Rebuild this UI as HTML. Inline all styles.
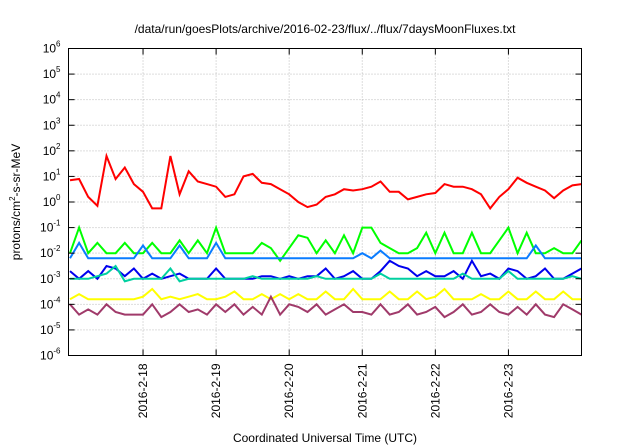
<!DOCTYPE html>
<html><head><meta charset="utf-8"><style>
html,body{margin:0;padding:0;background:#fff;}
svg{display:block;font-family:"Liberation Sans",sans-serif;}
</style></head><body>
<svg id="chart" width="640" height="448" viewBox="0 0 640 448">
<text x="325" y="33" font-size="12" text-anchor="middle">/data/run/goesPlots/archive/2016-02-23/flux/../flux/7daysMoonFluxes.txt</text>
<g id="grid"></g>
<g id="series"></g>
<rect x="68.5" y="48.5" width="513" height="307" fill="none" stroke="#000" stroke-width="1"/>
<g id="axes"></g>
<text transform="translate(20,202) rotate(-90)" font-size="12" text-anchor="middle">protons/cm<tspan font-size="8" dy="-5">2</tspan><tspan dy="5">-s-sr-MeV</tspan></text>
<text x="325" y="442" font-size="12" text-anchor="middle">Coordinated Universal Time (UTC)</text>
</svg>
<script>
const yExps=[-6,-5,-4,-3,-2,-1,0,1,2,3,4,5,6];
const xTickDays=[1,2,3,4,5,6];
const xTickLabels=["2016-2-18","2016-2-19","2016-2-20","2016-2-21","2016-2-22","2016-2-23"];
const stepDays=0.125;
const redV=[0.85,0.9,0.2,-0.15,1.8,0.9,1.35,0.7,0.4,-0.25,-0.25,1.8,0.3,1.2,0.8,0.7,0.6,0.2,0.3,1.0,1.1,0.75,0.7,0.5,0.3,0.0,-0.2,-0.1,0.2,0.3,0.5,0.45,0.5,0.6,0.8,0.4,0.4,0.1,0.2,0.3,0.35,0.7,0.6,0.6,0.5,0.3,-0.25,0.2,0.5,0.95,0.75,0.6,0.45,0.15,0.45,0.65,0.7];
const greenV=[-2.0,-1.0,-2.0,-1.6,-2.0,-2.0,-1.6,-2.0,-2.0,-1.6,-2.0,-2.0,-1.5,-2.0,-1.5,-2.0,-1.0,-2.0,-2.0,-2.0,-2.0,-1.6,-1.8,-2.3,-1.8,-1.3,-1.4,-2.0,-1.5,-2.0,-1.3,-2.0,-1.0,-1.0,-1.6,-1.8,-2.0,-2.0,-1.8,-1.2,-2.0,-1.2,-2.0,-2.0,-1.2,-2.0,-2.0,-1.5,-1.0,-2.0,-1.2,-2.0,-2.0,-1.8,-2.0,-2.0,-1.5];
const lblueV=[-2.2,-1.6,-2.2,-2.2,-2.2,-2.2,-2.2,-2.2,-1.7,-2.2,-2.2,-2.2,-1.7,-2.2,-2.2,-2.2,-1.6,-2.2,-2.2,-2.2,-2.2,-2.2,-2.2,-2.2,-2.2,-2.2,-2.2,-2.2,-2.2,-2.2,-2.2,-2.2,-2.0,-2.2,-1.9,-2.2,-2.2,-2.2,-2.2,-2.2,-2.2,-2.2,-2.2,-2.2,-2.2,-2.2,-2.2,-2.2,-2.2,-2.2,-2.2,-1.7,-2.2,-2.2,-2.2,-2.2,-2.2];
const blueV=[-2.7,-3.0,-2.7,-3.0,-2.5,-2.6,-2.9,-2.6,-3.0,-2.8,-3.0,-2.9,-2.8,-3.0,-3.0,-3.0,-2.6,-3.0,-3.0,-3.0,-3.0,-2.9,-2.9,-3.0,-2.9,-3.0,-2.9,-2.9,-2.6,-3.0,-2.9,-2.7,-3.0,-3.0,-2.7,-2.3,-2.5,-2.6,-2.9,-2.7,-2.9,-2.9,-2.7,-3.0,-2.3,-2.9,-2.8,-3.0,-2.6,-2.7,-3.0,-2.9,-2.6,-3.0,-3.0,-2.8,-2.6];
const tealV=[-3.0,-3.0,-3.0,-2.9,-2.8,-2.5,-3.1,-3.0,-3.0,-3.0,-3.0,-2.6,-3.1,-3.0,-3.0,-3.0,-3.0,-3.0,-3.0,-3.0,-2.9,-3.0,-3.0,-3.0,-3.0,-3.0,-3.0,-2.9,-3.0,-3.0,-3.0,-3.0,-3.0,-3.0,-2.8,-3.0,-3.0,-3.0,-3.0,-3.0,-3.0,-3.0,-3.0,-2.8,-3.0,-3.0,-3.0,-3.0,-2.7,-3.0,-3.0,-3.0,-3.0,-3.0,-3.0,-2.9,-3.0];
const yellowV=[-3.8,-3.6,-3.8,-3.8,-3.8,-3.8,-3.8,-3.8,-3.7,-3.4,-3.8,-3.7,-3.8,-3.7,-3.6,-3.8,-3.8,-3.7,-3.5,-3.8,-3.8,-3.6,-3.8,-3.6,-3.8,-3.6,-3.8,-3.8,-3.5,-3.8,-3.8,-3.4,-3.8,-3.8,-3.8,-3.5,-3.8,-3.8,-3.5,-3.8,-3.7,-3.4,-3.8,-3.8,-3.8,-3.6,-3.8,-3.8,-3.5,-3.8,-3.8,-3.5,-3.8,-3.8,-3.5,-3.8,-3.8];
const purpleV=[-4.0,-4.4,-4.2,-4.4,-4.0,-4.3,-4.4,-4.4,-4.4,-4.0,-4.5,-4.3,-4.0,-4.3,-4.2,-4.4,-4.0,-4.3,-4.0,-4.4,-4.1,-4.4,-3.7,-4.4,-4.0,-4.1,-4.3,-4.0,-4.4,-4.2,-4.0,-4.3,-4.3,-4.4,-4.0,-4.4,-4.3,-4.0,-4.4,-4.3,-4.1,-4.5,-4.3,-4.0,-4.4,-4.3,-4.0,-4.3,-4.4,-4.1,-4.4,-4.0,-4.4,-4.5,-4.0,-4.2,-4.4];
const seriesList=[["proton-flux-red",redV,"#ff0000"],["proton-flux-green",greenV,"#00ff00"],["proton-flux-lightblue",lblueV,"#0a7cff"],["proton-flux-blue",blueV,"#0000ee"],["proton-flux-teal",tealV,"#00d0a0"],["proton-flux-yellow",yellowV,"#ffff00"],["proton-flux-purple",purpleV,"#a03a6a"]];
const NS="http://www.w3.org/2000/svg";
const L=68.5,R=581.5,T=48.5,B=355.5,dMin=-0.02,dMax=7.0;
function xs(d){return L+(d-dMin)/(dMax-dMin)*(R-L);}
function ys(e){return T+(6-e)/12*(B-T);}
const grid=document.getElementById('grid'),axes=document.getElementById('axes'),ser=document.getElementById('series');
yExps.forEach(e=>{
  const y=ys(e);
  if(e>-6&&e<6){const g=document.createElementNS(NS,'line');
  
  
  g.setAttribute('x1',L);g.setAttribute('x2',R);g.setAttribute('y1',y);g.setAttribute('y2',y);
  g.setAttribute('stroke','#bbb');g.setAttribute('stroke-dasharray','1,2');grid.appendChild(g);}
  [[L,L+6],[R-6,R]].forEach(p=>{const t=document.createElementNS(NS,'line');
  
  
  t.setAttribute('x1',p[0]);t.setAttribute('x2',p[1]);t.setAttribute('y1',y);t.setAttribute('y2',y);t.setAttribute('stroke','#000');axes.appendChild(t);});
  const tx=document.createElementNS(NS,'text');
  
  
  tx.setAttribute('x',L-8);tx.setAttribute('y',y+4);tx.setAttribute('text-anchor','end');tx.setAttribute('font-size','12');
  tx.innerHTML='10<tspan font-size="8" dy="-6">'+e+'</tspan>';
  axes.appendChild(tx);
});
xTickDays.forEach((d,i)=>{
  const x=xs(d);
  const g=document.createElementNS(NS,'line');
  
  
  g.setAttribute('x1',x);g.setAttribute('x2',x);g.setAttribute('y1',T);g.setAttribute('y2',B);
  g.setAttribute('stroke','#bbb');g.setAttribute('stroke-dasharray','1,2');grid.appendChild(g);
  [[T,T+6],[B-6,B]].forEach(p=>{const t=document.createElementNS(NS,'line');
  
  
  t.setAttribute('x1',x);t.setAttribute('x2',x);t.setAttribute('y1',p[0]);t.setAttribute('y2',p[1]);t.setAttribute('stroke','#000');axes.appendChild(t);});
  const tx=document.createElementNS(NS,'text');
  
  
  tx.setAttribute('transform','translate('+(x+4)+','+(B+8)+') rotate(-90)');
  tx.setAttribute('text-anchor','end');tx.setAttribute('font-size','12');
  tx.textContent=xTickLabels[i];axes.appendChild(tx);
});
seriesList.forEach(s=>{
  const pts=s[1].map((v,i)=>xs(i*stepDays).toFixed(1)+','+ys(v).toFixed(1)).join(' ');
  const pl=document.createElementNS(NS,'polyline');
  
  
  pl.setAttribute('points',pts);pl.setAttribute('fill','none');pl.setAttribute('stroke',s[2]);
  pl.setAttribute('stroke-width','2');pl.setAttribute('stroke-linejoin','miter');
  ser.appendChild(pl);
});
</script>
</body></html>
